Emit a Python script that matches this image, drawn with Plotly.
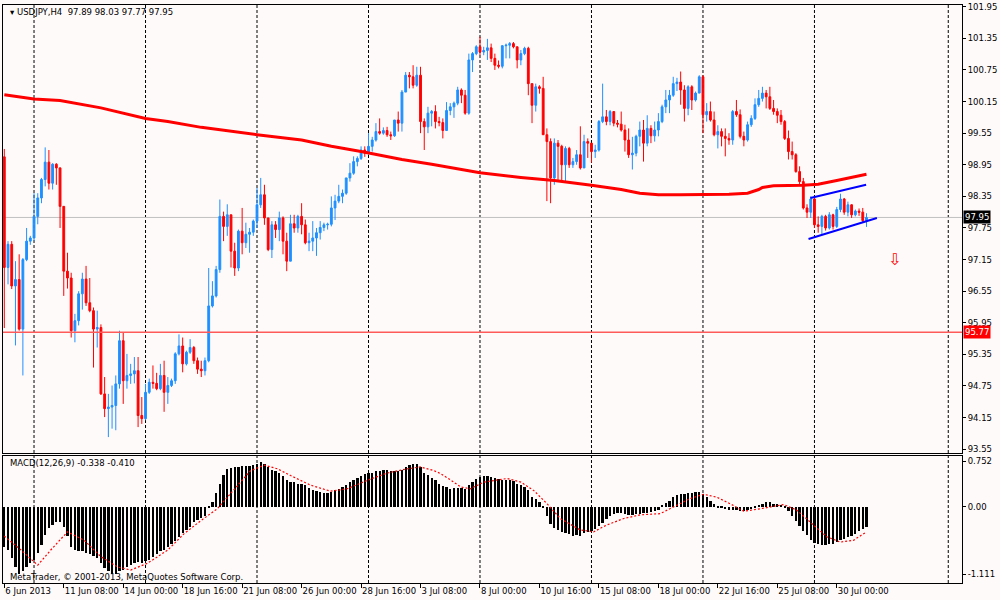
import plotly.graph_objects as go

# ---------------- data ----------------
first_open = 99.10
closes = [
    97.00, 97.44, 96.65, 96.77, 95.83, 97.15, 97.50, 97.56, 97.97, 98.32,
    98.67, 99.00, 98.60, 98.96, 98.89, 98.16, 96.93, 96.80, 95.80, 95.99,
    96.50, 96.78, 96.33, 96.18, 95.83, 95.86, 94.60, 94.32, 94.35, 94.38,
    94.79, 95.61, 94.85, 94.95, 94.98, 95.04, 94.19, 94.13, 94.63, 94.82,
    94.80, 94.70, 94.95, 94.63, 94.76, 94.85, 95.36, 95.51, 95.17, 95.39,
    95.48, 95.23, 95.07, 95.04, 95.23, 96.27, 96.46, 96.96, 97.97, 97.78,
    98.00, 97.31, 96.99, 97.69, 97.47, 97.63, 97.67, 97.88, 98.19, 98.38,
    97.94, 97.34, 97.81, 97.72, 97.94, 97.50, 97.12, 97.83, 97.75, 97.97,
    97.81, 97.47, 97.50, 97.56, 97.66, 97.76, 97.81, 97.82, 98.13, 98.26,
    98.35, 98.41, 98.70, 98.79, 99.01, 99.07, 99.23, 99.17, 99.30, 99.42,
    99.58, 99.55, 99.60, 99.52, 99.50, 99.80, 99.74, 100.33, 100.65, 100.62,
    100.46, 100.65, 99.77, 99.67, 99.93, 99.96, 99.77, 99.75, 99.60, 99.98,
    100.05, 100.12, 100.37, 100.27, 99.93, 100.94, 101.06, 101.19, 101.09, 101.12,
    101.17, 100.97, 100.84, 100.82, 101.21, 101.22, 101.25, 101.19, 100.94, 101.06,
    101.16, 100.49, 100.08, 100.43, 100.40, 99.52, 99.39, 98.70, 99.36, 99.30,
    98.95, 99.26, 98.95, 99.01, 99.14, 98.89, 99.39, 99.36, 99.20, 99.23,
    99.77, 99.86, 99.77, 99.96, 99.74, 99.72, 99.61, 99.42, 99.14, 99.17,
    99.49, 99.61, 99.36, 99.64, 99.50, 99.61, 99.77, 100.05, 100.18, 100.27,
    100.49, 100.52, 100.37, 100.02, 100.43, 100.18, 100.31, 100.62, 99.90, 99.96,
    99.80, 99.52, 99.58, 99.49, 99.45, 99.42, 99.96, 99.90, 99.49, 99.42,
    99.71, 99.83, 100.09, 100.21, 100.31, 100.24, 100.02, 99.96, 99.89, 99.77,
    99.45, 99.20, 99.14, 98.82, 98.63, 98.13, 98.05, 98.30, 97.81, 97.78,
    97.97, 97.75, 98.00, 97.78, 98.10, 98.30, 98.05, 98.19, 98.00, 98.07,
    98.05, 97.89, 97.95,
]
highs = [
    99.25, 97.50, 97.50, 97.12, 97.25, 97.18, 97.75, 97.60, 98.41, 98.41,
    98.70, 99.28, 99.23, 98.98, 98.98, 98.90, 98.16, 97.28, 96.90, 96.12,
    96.55, 96.90, 97.03, 96.80, 96.24, 96.18, 95.92, 94.92, 94.60, 94.76,
    94.95, 95.80, 95.77, 95.36, 95.17, 95.30, 95.30, 94.54, 94.79, 94.89,
    95.14, 95.00, 95.17, 95.23, 94.92, 94.89, 95.39, 95.73, 95.67, 95.42,
    95.64, 95.51, 95.29, 95.23, 95.29, 96.99, 96.74, 97.03, 98.29, 98.06,
    98.20, 98.00, 97.47, 97.72, 98.13, 97.85, 97.75, 97.91, 98.51, 98.70,
    98.57, 97.94, 97.88, 97.88, 98.06, 97.97, 97.66, 98.00, 98.00, 98.00,
    98.22, 97.91, 97.66, 97.88, 97.75, 97.88, 97.85, 97.85, 98.35, 98.38,
    98.57, 98.48, 98.70, 98.98, 99.11, 99.11, 99.30, 99.30, 99.55, 99.48,
    99.74, 99.83, 99.66, 99.67, 99.58, 99.80, 99.96, 100.37, 100.71, 100.71,
    100.84, 100.81, 100.81, 99.83, 100.05, 99.99, 100.08, 99.86, 99.83, 100.14,
    100.12, 100.15, 100.43, 100.40, 100.37, 101.06, 101.09, 101.22, 101.38, 101.19,
    101.34, 101.25, 101.06, 100.93, 101.22, 101.25, 101.28, 101.28, 101.19, 101.13,
    101.19, 101.19, 100.49, 100.49, 100.46, 100.62, 99.64, 99.45, 99.45, 99.42,
    99.33, 99.30, 99.29, 99.08, 99.23, 99.68, 99.52, 99.45, 99.33, 99.33,
    99.80, 100.49, 99.99, 99.99, 99.96, 99.80, 99.96, 99.71, 99.64, 99.48,
    99.52, 99.77, 99.80, 99.89, 99.70, 99.77, 99.93, 100.09, 100.37, 100.37,
    100.62, 100.60, 100.72, 100.46, 100.46, 100.46, 100.34, 100.65, 100.65, 100.12,
    100.15, 99.96, 99.70, 99.64, 99.64, 99.55, 99.99, 100.18, 100.00, 99.58,
    99.77, 99.89, 100.21, 100.37, 100.43, 100.37, 100.43, 100.18, 100.02, 99.99,
    99.80, 99.60, 99.39, 99.17, 98.92, 98.70, 98.20, 98.35, 98.35, 97.97,
    98.00, 98.00, 98.05, 98.02, 98.15, 98.40, 98.32, 98.25, 98.20, 98.10,
    98.12, 98.13, 98.03,
]
lows = [
    95.85, 96.68, 96.59, 95.52, 95.80, 94.95, 97.12, 97.43, 97.50, 97.82,
    98.22, 98.54, 98.48, 98.48, 98.57, 97.75, 96.46, 96.60, 95.67, 95.58,
    95.90, 96.20, 96.27, 96.15, 95.10, 95.48, 94.58, 94.16, 93.78, 93.94,
    93.91, 94.70, 94.41, 94.70, 94.79, 94.80, 93.97, 94.03, 94.10, 94.60,
    94.70, 94.67, 94.67, 94.26, 94.41, 94.73, 94.79, 95.33, 95.01, 95.14,
    95.36, 95.17, 94.98, 94.92, 94.95, 95.20, 96.24, 96.43, 96.90, 97.50,
    97.60, 97.00, 96.84, 96.93, 97.25, 97.37, 97.28, 97.60, 97.75, 98.13,
    97.81, 97.31, 97.18, 97.56, 97.50, 97.25, 96.93, 97.12, 97.66, 97.66,
    97.63, 97.44, 97.31, 97.31, 97.22, 97.53, 97.69, 97.72, 97.78, 97.90,
    98.22, 98.22, 98.38, 98.63, 98.76, 98.92, 99.04, 99.10, 99.14, 99.20,
    99.39, 99.52, 99.52, 99.48, 99.42, 99.48, 99.58, 99.58, 100.33, 100.40,
    100.40, 100.43, 99.55, 99.23, 99.55, 99.68, 99.64, 99.68, 99.45, 99.60,
    99.89, 99.84, 100.08, 100.12, 99.90, 99.90, 100.71, 101.03, 101.03, 101.03,
    100.94, 100.90, 100.75, 100.78, 100.78, 100.97, 100.97, 101.16, 100.78, 100.84,
    101.03, 100.27, 99.74, 99.96, 100.30, 99.52, 98.26, 98.22, 98.57, 98.64,
    98.64, 98.64, 98.89, 98.89, 98.95, 98.86, 98.89, 99.08, 98.99, 99.08,
    99.20, 99.74, 99.70, 99.70, 99.68, 99.66, 99.58, 99.20, 99.08, 98.86,
    99.11, 99.30, 99.01, 99.30, 99.36, 99.39, 99.49, 99.74, 99.93, 99.93,
    100.24, 100.35, 100.09, 99.77, 99.89, 99.99, 100.15, 100.31, 99.55, 99.77,
    99.77, 99.49, 99.26, 99.30, 99.11, 99.33, 99.33, 99.86, 99.45, 99.30,
    99.39, 99.67, 99.80, 100.05, 100.15, 100.02, 99.99, 99.90, 99.74, 99.71,
    99.42, 99.05, 99.05, 98.80, 98.55, 98.10, 97.94, 97.94, 97.75, 97.66,
    97.63, 97.70, 97.72, 97.72, 97.75, 98.05, 98.00, 97.97, 97.94, 97.97,
    97.98, 97.85, 97.77,
]
# open of each H4 bar = close of the bar before it
opens = [first_open] + closes[:-1]
bar_idx = list(range(len(closes)))

# 200-period moving average
ma_idx = [0, 8, 15, 21, 26, 38, 44, 53, 61, 68, 80, 88, 96, 107, 115, 121, 128,
          139, 148, 158, 166, 171, 176, 182, 195, 200, 203, 204, 207, 215, 219,
          224, 228, 232]
ma_val = [100.28, 100.20, 100.17, 100.09, 100.03, 99.83, 99.77, 99.66, 99.58,
          99.52, 99.42, 99.30, 99.20, 99.05, 98.96, 98.89, 98.80, 98.71, 98.65,
          98.56, 98.48, 98.41, 98.38, 98.38, 98.39, 98.41, 98.48, 98.52, 98.55,
          98.56, 98.58, 98.65, 98.71, 98.77]

# channel trend lines
chan_up_idx = [216.9, 231.9]
chan_up_val = [98.32, 98.57]
chan_lo_idx = [216.4, 234.8]
chan_lo_val = [97.54, 97.94]

support_level = [95.77]
arrow_idx = [239.6]
arrow_val = [97.12]

# MACD(12,26,9) main line (histogram)
macd = [
    -0.66, -0.71, -0.85, -0.99, -1.11, -1.07, -0.99, -0.93, -0.88, -0.77,
    -0.63, -0.47, -0.36, -0.30, -0.25, -0.25, -0.33, -0.49, -0.66, -0.71,
    -0.74, -0.74, -0.77, -0.79, -0.82, -0.85, -0.93, -1.01, -1.07, -1.11,
    -1.12, -1.07, -1.04, -1.00, -0.96, -0.93, -0.92, -0.93, -0.90, -0.88,
    -0.83, -0.79, -0.74, -0.71, -0.67, -0.62, -0.56, -0.50, -0.44, -0.38,
    -0.33, -0.26, -0.22, -0.19, -0.16, -0.03, 0.08, 0.22, 0.38, 0.52,
    0.62, 0.63, 0.65, 0.66, 0.67, 0.67, 0.67, 0.69, 0.71, 0.74,
    0.71, 0.66, 0.61, 0.58, 0.55, 0.50, 0.44, 0.41, 0.40, 0.38,
    0.37, 0.36, 0.30, 0.27, 0.25, 0.24, 0.23, 0.23, 0.24, 0.27,
    0.29, 0.33, 0.36, 0.40, 0.44, 0.47, 0.51, 0.53, 0.55, 0.56,
    0.58, 0.59, 0.60, 0.60, 0.59, 0.58, 0.59, 0.60, 0.65, 0.69,
    0.70, 0.71, 0.66, 0.55, 0.52, 0.47, 0.43, 0.38, 0.34, 0.32,
    0.29, 0.30, 0.31, 0.31, 0.29, 0.36, 0.40, 0.45, 0.49, 0.50,
    0.51, 0.49, 0.47, 0.45, 0.44, 0.43, 0.43, 0.42, 0.38, 0.36,
    0.33, 0.27, 0.16, 0.13, 0.08, -0.01, -0.15, -0.28, -0.35, -0.38,
    -0.42, -0.44, -0.45, -0.48, -0.47, -0.48, -0.44, -0.42, -0.41, -0.37,
    -0.32, -0.27, -0.21, -0.16, -0.13, -0.11, -0.10, -0.12, -0.14, -0.14,
    -0.12, -0.13, -0.11, -0.10, -0.09, -0.08, -0.05, 0.02, 0.06, 0.09,
    0.15, 0.19, 0.21, 0.21, 0.23, 0.22, 0.24, 0.24, 0.20, 0.15,
    0.10, 0.04, -0.01, -0.03, -0.04, -0.05, -0.05, -0.05, -0.07, -0.07,
    -0.05, -0.04, -0.01, 0.02, 0.05, 0.07, 0.07, 0.05, 0.04, 0.02,
    -0.02, -0.08, -0.15, -0.23, -0.32, -0.41, -0.47, -0.55, -0.60, -0.62,
    -0.63, -0.63, -0.62, -0.61, -0.59, -0.55, -0.53, -0.50, -0.48, -0.45,
    -0.40, -0.37, -0.34,
]
# MACD signal line (sampled)
sig_idx = [0, 4.5, 9, 12.5, 17, 21.5, 26, 30.5, 34, 38.5, 44, 48.4, 53, 57.3,
           62, 66.3, 70, 73.5, 77, 82.4, 87.8, 92.3, 97.7, 103, 108.4, 112,
           115.6, 117.4, 120, 122.8, 125.4, 129, 135.3, 139, 142.5, 146.1,
           149.6, 155, 158.6, 162, 166.7, 171.1, 176.5, 180, 184.6, 188.2,
           191.8, 195.4, 199, 203.4, 207, 209.7, 213.2, 216.8, 221.3, 224.9,
           228.5, 232]
sig_val = [-0.48, -0.71, -0.96, -0.71, -0.41, -0.55, -0.82, -0.99, -1.04, -0.93,
           -0.71, -0.44, -0.22, -0.03, 0.30, 0.60, 0.69, 0.63, 0.52, 0.36, 0.26,
           0.30, 0.44, 0.56, 0.63, 0.66, 0.60, 0.55, 0.45, 0.33, 0.30, 0.41,
           0.47, 0.41, 0.27, 0.05, -0.19, -0.38, -0.41, -0.30, -0.19, -0.13,
           -0.11, 0.00, 0.14, 0.21, 0.16, 0.05, -0.07, -0.03, 0.01, 0.04, -0.05,
           -0.25, -0.49, -0.58, -0.55, -0.41]

price_ticks = [93.55, 94.15, 94.75, 95.35, 95.95, 96.55, 97.15, 97.75, 98.35,
               98.95, 99.55, 100.15, 100.75, 101.35, 101.95]
macd_ticks = [-1.111, 0.0, 0.752]
macd_tick_text = ["-1.111", "0.00", "0.752"]
time_tick_idx = [0, 16, 32, 48, 64, 80, 96, 112, 128, 144, 160, 176, 192, 208, 224]
time_tick_text = ["6 Jun 2013", "11 Jun 08:00", "14 Jun 00:00", "18 Jun 16:00",
                  "21 Jun 08:00", "26 Jun 00:00", "28 Jun 16:00", "3 Jul 08:00",
                  "8 Jul 00:00", "10 Jul 16:00", "15 Jul 08:00", "18 Jul 00:00",
                  "22 Jul 16:00", "25 Jul 08:00", "30 Jul 00:00"]
week_grid_idx = [8, 38, 68, 98, 128, 158, 188, 218, 254]

# ---------------- figure ----------------
FONT = "DejaVu Sans"
BG = "#FFFAFA"
BLUE = "#1E90FF"
RED = "#FF0000"
FS = 8.5

fig = go.Figure()

fig.add_trace(go.Candlestick(
    x=bar_idx, open=opens, high=highs, low=lows, close=closes,
    increasing=dict(line=dict(color=BLUE, width=1), fillcolor=BLUE),
    decreasing=dict(line=dict(color=RED, width=1), fillcolor=RED),
    whiskerwidth=0, xaxis="x", yaxis="y", showlegend=False, hoverinfo="skip",
))
fig.add_trace(go.Scatter(x=ma_idx, y=ma_val, mode="lines",
                         line=dict(color=RED, width=3), xaxis="x", yaxis="y",
                         showlegend=False, hoverinfo="skip"))
fig.add_trace(go.Scatter(x=chan_up_idx, y=chan_up_val, mode="lines",
                         line=dict(color="#0000FF", width=2), xaxis="x", yaxis="y",
                         showlegend=False, hoverinfo="skip"))
fig.add_trace(go.Scatter(x=chan_lo_idx, y=chan_lo_val, mode="lines",
                         line=dict(color="#0000FF", width=2), xaxis="x", yaxis="y",
                         showlegend=False, hoverinfo="skip"))
fig.add_trace(go.Scatter(x=arrow_idx, y=arrow_val, mode="text", text=["\u21e9"],
                         textfont=dict(color=RED, size=16, family=FONT),
                         xaxis="x", yaxis="y", showlegend=False, hoverinfo="skip"))

fig.add_trace(go.Bar(x=bar_idx, y=macd, marker=dict(color="#000000", line=dict(width=0)),
                     width=0.62, xaxis="x2", yaxis="y2", showlegend=False,
                     hoverinfo="skip"))
fig.add_trace(go.Scatter(x=sig_idx, y=sig_val, mode="lines",
                         line=dict(color=RED, width=1.2, dash="2px,2px"),
                         xaxis="x2", yaxis="y2", showlegend=False, hoverinfo="skip"))

xr = [-0.35, 257.7]
main_dom = [0.2241, 1.0]
macd_dom = [0.0, 0.219]
tickfont = dict(family=FONT, size=FS, color="#000000")

shapes = []
for w in week_grid_idx:
    shapes.append(dict(type="line", xref="x", yref="paper", x0=w, x1=w, y0=0, y1=1,
                       line=dict(color="#000000", width=1, dash="3px,2px"),
                       layer="below"))
# current price line and support level
shapes.append(dict(type="line", xref="paper", yref="y", x0=0, x1=1,
                   y0=closes[-1], y1=closes[-1],
                   line=dict(color="#C0C0C0", width=1), layer="below"))
for lvl in support_level:
    shapes.append(dict(type="line", xref="paper", yref="y", x0=0, x1=1,
                       y0=lvl, y1=lvl, line=dict(color="#FF5A5A", width=1.5)))

annotations = [
    dict(text="\u25be USDJPY,H4&nbsp;&nbsp;%.2f %.2f %.2f %.2f" % (opens[-1], highs[-1], lows[-1], closes[-1]),
         xref="paper", yref="paper", x=0.005, y=0.988, xanchor="left", yanchor="middle",
         showarrow=False, font=dict(family=FONT, size=FS, color="#000000")),
    dict(text="MACD(12,26,9) %.3f %.3f" % (-0.338, -0.410),
         xref="paper", yref="paper", x=0.005, y=0.207, xanchor="left", yanchor="middle",
         showarrow=False, font=dict(family=FONT, size=FS, color="#000000")),
    dict(text="MetaTrader, \u00a9 2001-2013, MetaQuotes Software Corp.",
         xref="paper", yref="paper", x=0.005, y=0.0103, xanchor="left", yanchor="middle",
         showarrow=False, font=dict(family=FONT, size=FS, color="#000000")),
    dict(text="%.2f" % closes[-1], xref="paper", yref="y", x=1.0, y=closes[-1],
         xanchor="left", yanchor="middle", xshift=1, showarrow=False,
         bgcolor="#000000", borderpad=1, font=dict(family=FONT, size=FS, color="#FFFFFF")),
]
for lvl in support_level:
    annotations.append(dict(text="%.2f" % lvl, xref="paper", yref="y", x=1.0, y=lvl,
                            xanchor="left", yanchor="middle", xshift=1, showarrow=False,
                            bgcolor="#FF0000", borderpad=1,
                            font=dict(family=FONT, size=FS, color="#FFFFFF")))

fig.update_layout(
    width=1000, height=600,
    margin=dict(l=2, r=38, t=3, b=17),
    paper_bgcolor=BG, plot_bgcolor=BG,
    showlegend=False, hovermode=False,
    boxgap=0.3, bargap=0,
    xaxis=dict(domain=[0, 1], range=xr, anchor="y", showticklabels=False, ticks="",
               showgrid=False, zeroline=False, showline=True, mirror=True,
               linecolor="#000000", linewidth=1, rangeslider=dict(visible=False)),
    xaxis2=dict(domain=[0, 1], range=xr, anchor="y2", matches="x",
                tickvals=time_tick_idx, ticktext=time_tick_text, tickangle=0,
                ticks="outside", ticklen=4, tickcolor="#000000",
                ticklabelposition="outside right", ticklabeloverflow="allow",
                tickfont=tickfont,
                showgrid=False, zeroline=False, showline=True, mirror=True,
                linecolor="#000000", linewidth=1),
    yaxis=dict(domain=main_dom, range=[93.469, 101.983], side="right", anchor="x",
               tickvals=price_ticks, ticktext=["%.2f" % t for t in price_ticks],
               ticks="outside", ticklen=3, tickcolor="#000000", tickfont=tickfont,
               ticklabeloverflow="allow",
               showgrid=False, zeroline=False, showline=True, mirror=True,
               linecolor="#000000", linewidth=1),
    yaxis2=dict(domain=macd_dom, range=[-1.254, 0.834], side="right", anchor="x2",
                tickvals=macd_ticks, ticktext=macd_tick_text,
                ticks="outside", ticklen=3, tickcolor="#000000", tickfont=tickfont,
                ticklabeloverflow="allow",
                showgrid=False, zeroline=False, showline=True, mirror=True,
                linecolor="#000000", linewidth=1),
    shapes=shapes,
    annotations=annotations,
)

fig.write_html("out.html", config={"displayModeBar": False},
               post_script="document.body.style.margin='0px';"
                           "document.body.style.background='%s';" % BG)
